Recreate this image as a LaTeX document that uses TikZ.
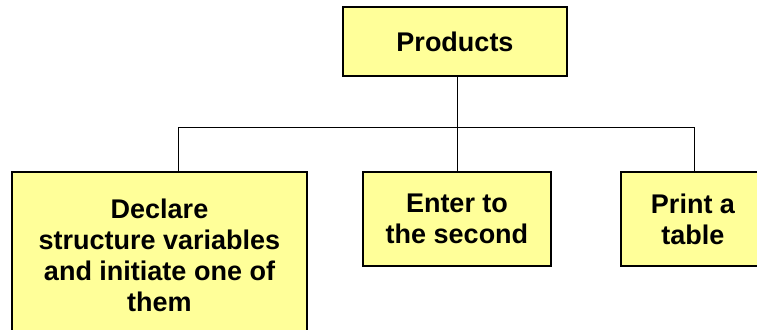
\documentclass[tikz,border=0pt]{standalone}
\usepackage{fontspec}
\setmainfont{Liberation Sans}
\usepackage{tikz}
\usetikzlibrary{positioning, calc}
\definecolor{boxyellow}{RGB}{255,255,153}

\begin{document}
\begin{tikzpicture}[
    x=0.5pt, y=-0.5pt,
    every node/.style={font=\fontsize{13.5}{15.5}\selectfont\bfseries},
    box/.style={rectangle, draw=black, line width=0.8pt, fill=boxyellow, align=center, inner sep=0pt},
    link/.style={draw=black, line width=0.5pt}
]
\useasboundingbox (0,0) rectangle (757,329);

% Wurzel
\node[box, minimum width=112pt, minimum height=34.5pt] (prod) at (455,41.5) {Products};

% Unterpunkte
\node[box, minimum width=147.5pt, minimum height=83pt] (decl) at (159.5,255) {Declare\\structure variables\\and initiate one of\\them};
\node[box, minimum width=94pt, minimum height=47pt] (enter) at (457,219) {Enter to\\the second};
\node[box, minimum width=72pt, minimum height=47pt] (print) at (693,219) {Print a\\table};

% Verbindungen
\coordinate (dropL) at (178,127);
\coordinate (dropR) at (694,127);
\draw[link] (enter.north |- prod.south) -- (enter.north);
\draw[link] (dropL) -- (dropR);
\draw[link] (dropL) -- (dropL |- decl.north);
\draw[link] (dropR) -- (dropR |- print.north);

\end{tikzpicture}
\end{document}
